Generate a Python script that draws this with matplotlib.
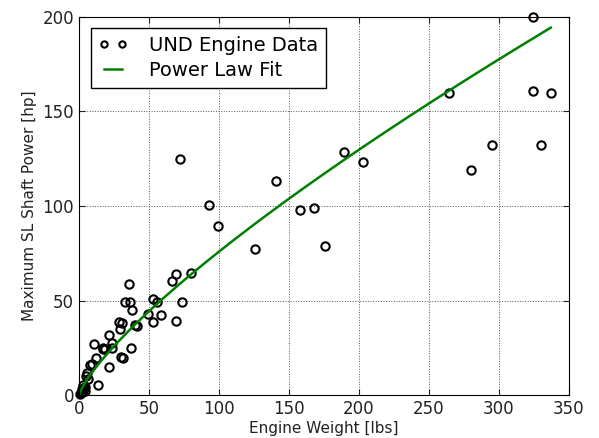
import matplotlib
matplotlib.use("Agg")
import matplotlib.pyplot as plt
import numpy as np

# UND engine data
weight_lbs = [324, 324, 337, 264, 295, 330, 280, 189, 203, 72, 141,
              93, 99.5, 126, 158, 167.5, 176,
              80, 69, 66.5, 35.7, 33, 36.5, 53, 56, 38, 73.5, 49, 58.5,
              53, 69, 28.3, 31, 40, 41.2, 29.3, 21.7, 23.6, 11, 17, 18.8,
              23.8, 17.4, 37, 12, 29.8, 31.4, 9.3, 8, 21.4, 6, 5, 6.2,
              13.6, 3.1, 4.3, 2.6, 4, 1.9, 1.2, 0.8, 2.2, 3.5]
power_hp = [200, 161, 159.5, 159.5, 132.5, 132.5, 119, 128.5, 123, 125, 113,
            100.5, 89.5, 77.5, 98, 99, 79,
            64.5, 64, 60.5, 59, 49.5, 49.5, 51, 49.5, 45, 49.5, 43, 42.3,
            39, 39.5, 39, 38, 37.4, 36.5, 35, 32, 27.7, 27, 25.2, 24.7,
            25.2, 24.5, 25, 20, 20.3, 19.8, 16.4, 16, 14.8, 12, 10, 8.5,
            5.5, 5.5, 4.3, 3, 2.3, 2, 1.5, 1, 3.5, 4]

# power law fit P = a * W^b (coefficients)
fit_a = 2.16
fit_b = 0.773

plt.rcParams.update({
    "font.family": "DejaVu Sans",
    "xtick.direction": "in",
    "ytick.direction": "in",
    "xtick.top": True,
    "ytick.right": True,
    "xtick.major.size": 4,
    "ytick.major.size": 4,
})

fig = plt.figure(figsize=(5.99, 4.38), dpi=100)
ax = fig.add_axes([79 / 599, 1 - 395.4 / 438, 490 / 599, 378.7 / 438])

ax.plot(weight_lbs, power_hp, "o", mfc="none", mec="black", mew=1.5,
        ms=6, label="UND Engine Data", clip_on=False)

w_fit = np.linspace(0, max(weight_lbs), 200)
ax.plot(w_fit, fit_a * w_fit ** fit_b, "-", color=(0, 0.5, 0), lw=1.8,
        label="Power Law Fit")

ax.set_xlim(0, 350)
ax.set_ylim(0, 200)
ax.set_xticks(range(0, 351, 50))
ax.set_yticks(range(0, 201, 50))
ax.tick_params(labelsize=12, colors="#222222")
ax.grid(True, color="#555555", linestyle=":", linewidth=0.7)
ax.set_xlabel("Engine Weight [lbs]", fontsize=11, color="#222222", labelpad=2)
ax.set_ylabel("Maximum SL Shaft Power [hp]", fontsize=11, color="#222222", labelpad=4)

leg = ax.legend(loc="upper left", numpoints=2, fontsize=14, fancybox=False,
                framealpha=1, edgecolor="black", borderaxespad=0.6,
                handlelength=1.5, handletextpad=1.1, markerscale=0.75,
                borderpad=0.4, labelspacing=0.3)
leg.get_frame().set_linewidth(1.0)

fig.savefig("out.png", dpi=100)
